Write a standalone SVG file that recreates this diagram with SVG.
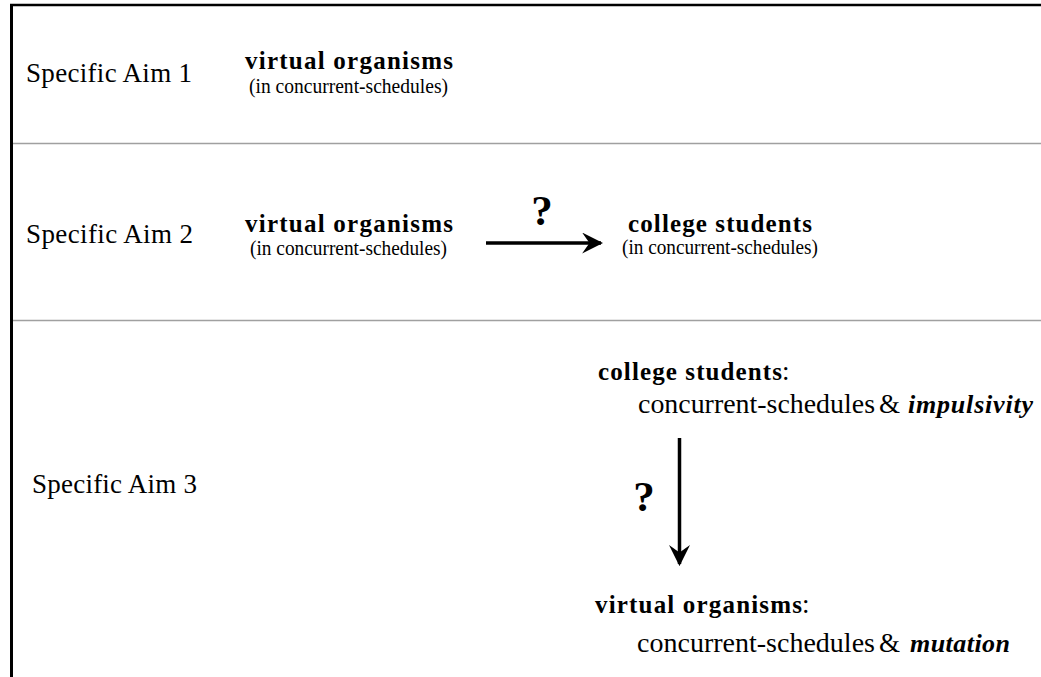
<svg xmlns="http://www.w3.org/2000/svg" width="1041" height="677" viewBox="0 0 1041 677">
<style>
text{font-family:"Liberation Serif","Times New Roman",serif;fill:#000}
.aim{font-size:27px}
.title{font-size:25px;font-weight:bold}
.sub{font-size:20px}
.body{font-size:27px}
.bi{font-size:26px;font-weight:bold;font-style:italic}
.q{font-size:43px;font-weight:bold;text-anchor:middle}
.sep{stroke:#a0a0a0;stroke-width:1.5}
.conn{stroke:#000;stroke-width:3.5;fill:none}
</style>
<defs>
<marker id="ah" viewBox="0 0 10 10" refX="9" refY="5" markerWidth="6" markerHeight="6" markerUnits="strokeWidth" orient="auto">
<path d="M10,5 L0,0 L3.5,5 L0,10 Z" fill="#000"/>
</marker>
</defs>
<rect width="1041" height="677" fill="#fff"/>
<g id="frame">
<line x1="11.5" y1="5" x2="11.5" y2="677" stroke="#000" stroke-width="3"/>
<line x1="10" y1="5" x2="1041" y2="5" stroke="#000" stroke-width="2.5"/>
<line class="sep" x1="13" y1="143.5" x2="1041" y2="143.5"/>
<line class="sep" x1="13" y1="320.5" x2="1041" y2="320.5"/>
</g>
<g id="aim1-label"><text class="aim" x="26" y="82" textLength="166" lengthAdjust="spacing">Specific Aim 1</text></g>
<g id="aim2-label"><text class="aim" x="26" y="243" textLength="167" lengthAdjust="spacing">Specific Aim 2</text></g>
<g id="aim3-label"><text class="aim" x="32" y="493" textLength="165" lengthAdjust="spacing">Specific Aim 3</text></g>
<g id="aim1-vo">
<text class="title" x="245" y="69" textLength="208" lengthAdjust="spacing">virtual organisms</text>
<text class="sub" x="249" y="93" textLength="199" lengthAdjust="spacingAndGlyphs">(in concurrent-schedules)</text>
</g>
<g id="aim2-vo">
<text class="title" x="245" y="232" textLength="208" lengthAdjust="spacing">virtual organisms</text>
<text class="sub" x="250" y="255" textLength="197" lengthAdjust="spacingAndGlyphs">(in concurrent-schedules)</text>
</g>
<g id="aim2-cs">
<text class="title" x="628" y="232" textLength="184" lengthAdjust="spacing">college students</text>
<text class="sub" x="622" y="254" textLength="196" lengthAdjust="spacingAndGlyphs">(in concurrent-schedules)</text>
</g>
<g id="aim3-cs">
<text class="title" x="598" y="380" textLength="184" lengthAdjust="spacing">college students</text>
<text class="body" x="782" y="380">:</text>
<text class="body" x="638" y="413" textLength="237" lengthAdjust="spacingAndGlyphs">concurrent-schedules</text>
<text class="body" x="879" y="413">&amp;</text>
<text class="bi" x="908" y="413" textLength="125" lengthAdjust="spacing">impulsivity</text>
</g>
<g id="aim3-vo">
<text class="title" x="595" y="613" textLength="207" lengthAdjust="spacing">virtual organisms</text>
<text class="body" x="802" y="613">:</text>
<text class="body" x="637" y="652" textLength="238" lengthAdjust="spacingAndGlyphs">concurrent-schedules</text>
<text class="body" x="879" y="652">&amp;</text>
<text class="bi" x="910" y="652" textLength="100" lengthAdjust="spacing">mutation</text>
</g>
<g id="connectors">
<line class="conn" x1="486" y1="243" x2="601" y2="243" marker-end="url(#ah)"/>
<text class="q" x="542" y="225">?</text>
<line class="conn" x1="679.5" y1="438" x2="679.5" y2="564" marker-end="url(#ah)"/>
<text class="q" x="644" y="511">?</text>
</g>
</svg>
